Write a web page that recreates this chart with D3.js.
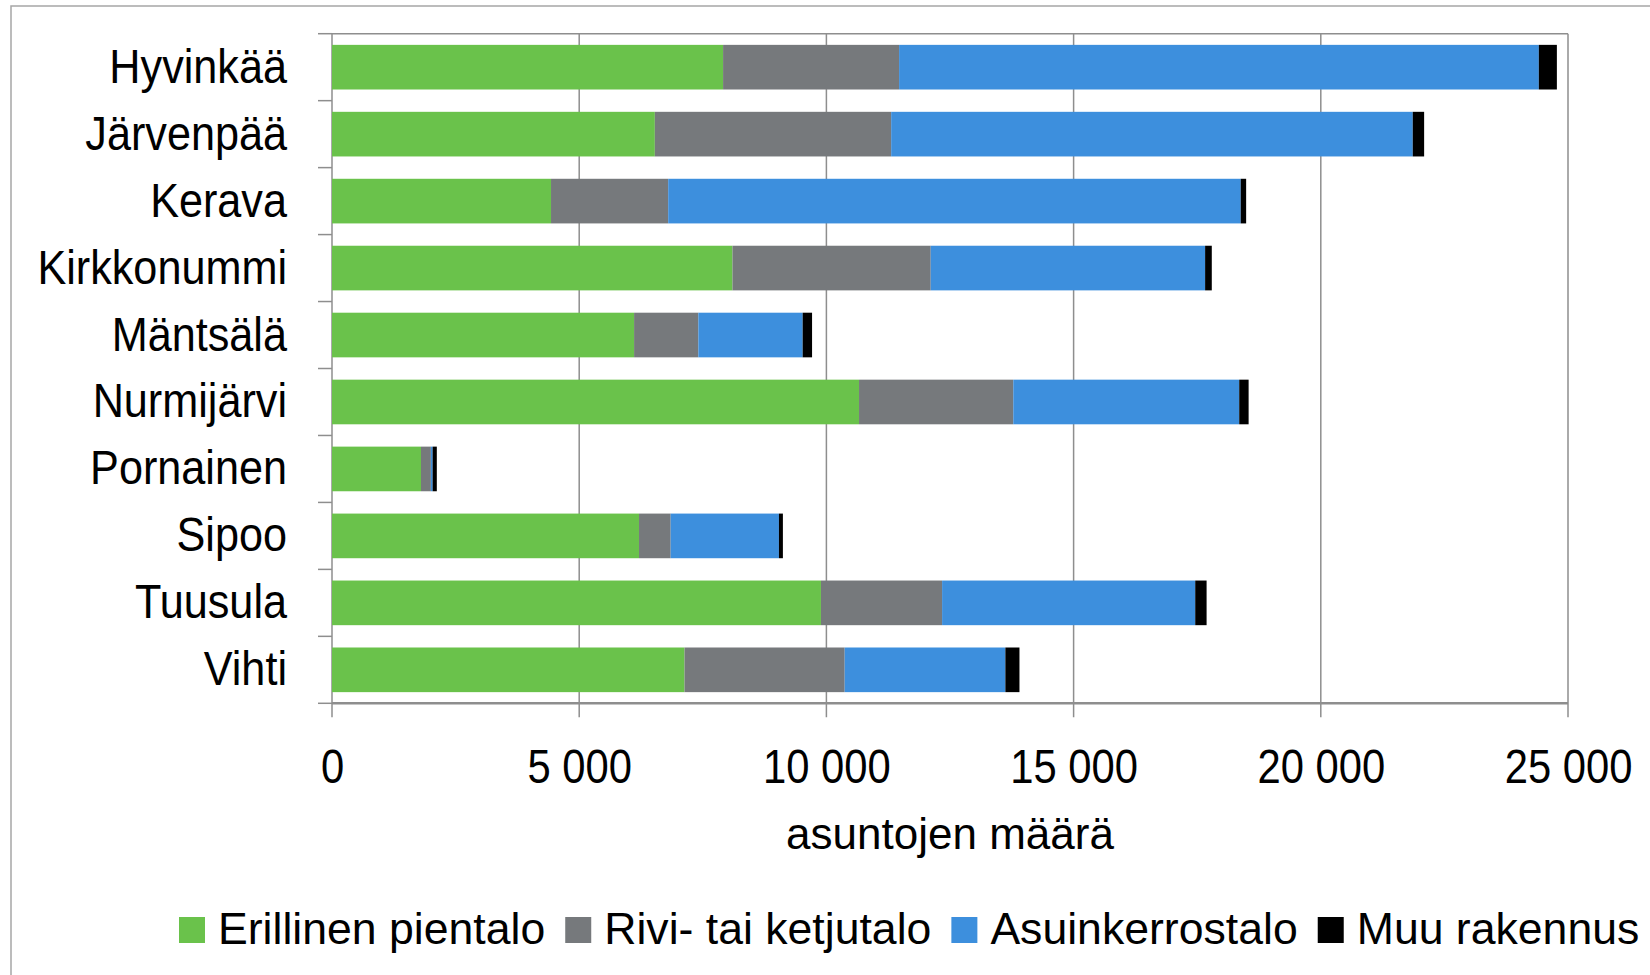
<!DOCTYPE html>
<html>
<head>
<meta charset="utf-8">
<script src="https://cdn.jsdelivr.net/npm/d3@7"></script>
<style>
  body { margin: 0; background: #fff; }
  svg text { font-family: "Liberation Sans", Arial, sans-serif; fill: #000; }
</style>
</head>
<body>
<svg id="chart" width="1650" height="975"></svg>
<script>
// asuntokanta talotyypeittäin
const kunnat = ["Hyvinkää", "Järvenpää", "Kerava", "Kirkkonummi", "Mäntsälä",
  "Nurmijärvi", "Pornainen", "Sipoo", "Tuusula", "Vihti"];
const series = ["Erillinen pientalo", "Rivi- tai ketjutalo", "Asuinkerrostalo", "Muu rakennus"];
const erillinen = [7910, 6530, 4430, 8100, 6110, 10660, 1800, 6210, 9890, 7130];
const rivi      = [3560, 4780, 2370, 4010, 1300, 3120, 200, 640, 2450, 3240];
const kerros    = [12940, 10550, 11580, 5550, 2110, 4570, 35, 2190, 5120, 3250];
const muu       = [365, 230, 110, 135, 190, 190, 85, 80, 230, 285];
const xTicks = [0, 5000, 10000, 15000, 20000, 25000];
const colors = ["#6ac24b", "#76797c", "#3d8fdd", "#000000"];

const svg = d3.select("#chart");
const pLeft = 332, pRight = 1568, pTop = 33.7, pBottom = 703.3;
const gridColor = "#8e8e8e";

// outer chart frame (right/bottom edges run off the page)
svg.append("rect")
  .attr("x", 11).attr("y", 6)
  .attr("width", 1700).attr("height", 1000)
  .attr("fill", "none").attr("stroke", "#a6a6a6").attr("stroke-width", 1.5);

const x = d3.scaleLinear().domain([0, 25000]).range([pLeft, pRight]);
const y = d3.scaleBand().domain(kunnat).range([pTop, pBottom])
  .paddingInner(1/3).paddingOuter(1/6);

const rows = kunnat.map((k, i) => ({
  kunta: k,
  [series[0]]: erillinen[i],
  [series[1]]: rivi[i],
  [series[2]]: kerros[i],
  [series[3]]: muu[i]
}));
const stacked = d3.stack().keys(series)(rows);

// gridlines (reach below the axis as tick marks)
svg.append("g")
  .selectAll("line")
  .data(xTicks)
  .join("line")
  .attr("x1", d => x(d)).attr("x2", d => x(d))
  .attr("y1", pTop).attr("y2", pBottom + 14)
  .attr("stroke", gridColor).attr("stroke-width", 1.5);

// bars
svg.append("g")
  .selectAll("g")
  .data(stacked)
  .join("g")
  .attr("fill", (d, i) => colors[i])
  .selectAll("rect")
  .data(d => d)
  .join("rect")
  .attr("x", d => x(d[0]))
  .attr("y", d => y(d.data.kunta))
  .attr("width", d => x(d[1]) - x(d[0]))
  .attr("height", y.bandwidth());

// category boundary ticks + plot border
const boundaries = d3.range(kunnat.length + 1).map(i => pTop + i * y.step());
svg.append("g")
  .selectAll("line")
  .data(boundaries)
  .join("line")
  .attr("x1", pLeft - 14).attr("x2", pLeft)
  .attr("y1", d => d).attr("y2", d => d)
  .attr("stroke", gridColor).attr("stroke-width", 1.5);

svg.append("line")
  .attr("x1", pLeft).attr("x2", pRight).attr("y1", pTop).attr("y2", pTop)
  .attr("stroke", gridColor).attr("stroke-width", 1.5);
svg.append("line")
  .attr("x1", pLeft).attr("x2", pRight).attr("y1", pBottom).attr("y2", pBottom)
  .attr("stroke", gridColor).attr("stroke-width", 2.5);

// x axis labels
const fi = d3.formatLocale({ decimal: ",", thousands: "\u00a0", grouping: [3], currency: ["", "€"] });
const xAxis = svg.append("g")
  .attr("transform", `translate(0,${pBottom})`)
  .call(d3.axisBottom(x).tickValues(xTicks).tickFormat(fi.format(",d")).tickSize(0));
xAxis.select(".domain").remove();
xAxis.selectAll("text")
  .attr("y", 0).attr("dy", null)
  .attr("transform", "translate(0,80) scale(0.87,1)")
  .style("font-size", "48px");

// y axis labels
const yAxis = svg.append("g")
  .attr("transform", `translate(${pLeft},0)`)
  .call(d3.axisLeft(y).tickSize(0).tickPadding(0));
yAxis.select(".domain").remove();
yAxis.selectAll("text")
  .attr("x", null).attr("dy", null)
  .attr("transform", "translate(-45,15.5) scale(0.9,1)")
  .style("font-size", "48px");

// axis title
svg.append("text")
  .attr("x", (pLeft + pRight) / 2).attr("y", 849)
  .attr("text-anchor", "middle")
  .style("font-size", "44px")
  .text("asuntojen määrä");

// legend
const legend = svg.append("g").attr("transform", "translate(179,0)");
let lx = 0;
series.forEach((s, i) => {
  legend.append("rect")
    .attr("x", lx).attr("y", 917)
    .attr("width", 26).attr("height", 26)
    .attr("fill", colors[i]);
  const t = legend.append("text")
    .attr("x", lx + 39).attr("y", 944)
    .style("font-size", "44.6px")
    .text(s);
  lx += 39 + t.node().getComputedTextLength() + 20;
});
</script>
</body>
</html>
